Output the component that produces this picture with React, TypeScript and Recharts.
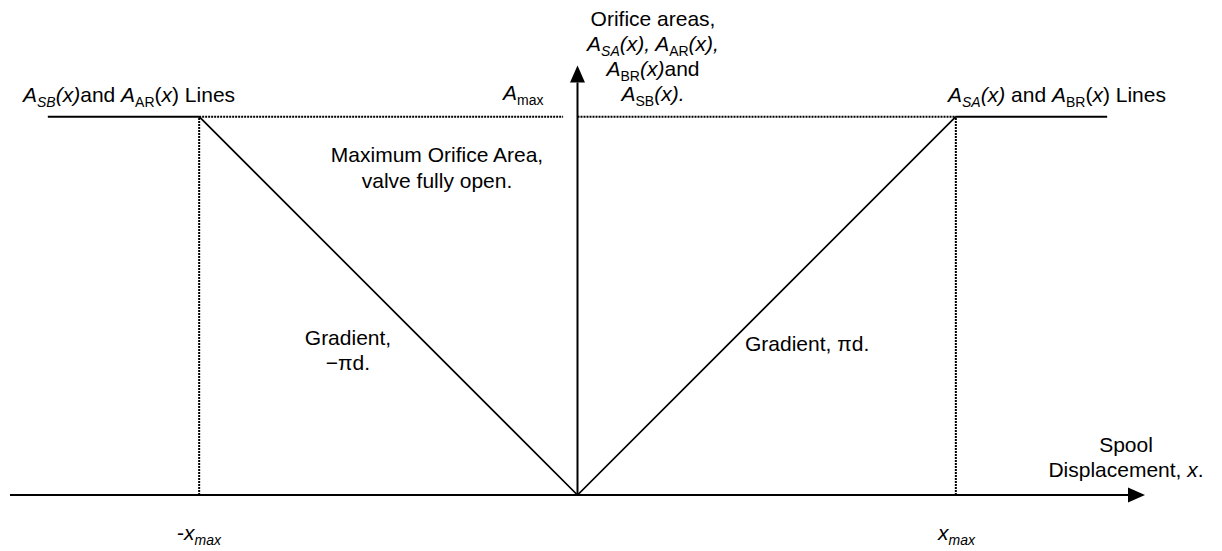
import { Line, LineChart, ReferenceLine, XAxis, YAxis } from 'recharts';

// displacement in units of x_max, area in units of A_max
const gradientLine = [
  { x: -1, y: 1 },
  { x: 0, y: 0 },
  { x: 1, y: 1 },
];
const leftPlateau = [
  { x: -1.4, y: 1 },
  { x: -1, y: 1 },
];
const rightPlateau = [
  { x: 1, y: 1 },
  { x: 1.4, y: 1 },
];
const amaxDottedLeft = [
  { x: -1, y: 1 },
  { x: -0.038, y: 1 },
];
const amaxDottedRight = [
  { x: 0, y: 1 },
  { x: 1, y: 1 },
];
const xMaxLeftDrop = [
  { x: -1, y: 0 },
  { x: -1, y: 1 },
];
const xMaxRightDrop = [
  { x: 1, y: 0 },
  { x: 1, y: 1 },
];

const xDomain = [-1.5, 1.5];
const yDomain = [0, 1.2];
const yAxisTop = 1.135;

type Seg = { t: string; it?: boolean; sub?: boolean };

const leftLinesLabel: Seg[] = [
  { t: 'A', it: true },
  { t: 'SB', it: true, sub: true },
  { t: '(x)', it: true },
  { t: 'and ' },
  { t: 'A', it: true },
  { t: 'AR', sub: true },
  { t: '(' },
  { t: 'x', it: true },
  { t: ') Lines' },
];
const rightLinesLabel: Seg[] = [
  { t: 'A', it: true },
  { t: 'SA', it: true, sub: true },
  { t: '(x)', it: true },
  { t: ' and ' },
  { t: 'A', it: true },
  { t: 'BR', sub: true },
  { t: '(' },
  { t: 'x', it: true },
  { t: ') Lines' },
];
const yAxisTitle: Seg[][] = [
  [{ t: 'Orifice areas,' }],
  [
    { t: 'A', it: true },
    { t: 'SA', it: true, sub: true },
    { t: '(x), A', it: true },
    { t: 'AR', sub: true },
    { t: '(x),', it: true },
  ],
  [
    { t: 'A', it: true },
    { t: 'BR', sub: true },
    { t: '(x)', it: true },
    { t: 'and' },
  ],
  [
    { t: 'A', it: true },
    { t: 'SB', sub: true },
    { t: '(x).', it: true },
  ],
];
const amaxLabel: Seg[] = [{ t: 'A', it: true }, { t: 'max', sub: true }];
const maxAreaNote: Seg[][] = [[{ t: 'Maximum Orifice Area,' }], [{ t: 'valve fully open.' }]];
const negGradientNote: Seg[][] = [[{ t: 'Gradient,' }], [{ t: '\u2212\u03c0d.' }]];
const posGradientNote: Seg[] = [{ t: 'Gradient, \u03c0d.' }];
const xAxisTitle: Seg[][] = [
  [{ t: 'Spool' }],
  [{ t: 'Displacement,  ' }, { t: 'x', it: true }, { t: '.' }],
];
const xMaxPos: Seg[] = [{ t: 'x', it: true }, { t: 'max', it: true, sub: true }];
const xMaxNeg: Seg[] = [{ t: '-' }, { t: 'x', it: true }, { t: 'max', it: true, sub: true }];

const FONT = '"Liberation Sans", Arial, sans-serif';
const SUB_SHIFT = 5;

function RichLine({ x, y, segs, anchor = 'start' }: { x: number; y: number; segs: Seg[]; anchor?: string }) {
  let shift = 0;
  return (
    <text x={x} y={y} textAnchor={anchor} fontFamily={FONT} fontSize={21} fill="#000">
      {segs.map((s, i) => {
        const target = s.sub ? SUB_SHIFT : 0;
        const dy = target - shift;
        shift = target;
        return (
          <tspan key={i} dy={dy || undefined} fontStyle={s.it ? 'italic' : 'normal'} fontSize={s.sub ? 14 : 21}>
            {s.t}
          </tspan>
        );
      })}
    </text>
  );
}

function RichBlock({ x, y, lines, gap, anchor = 'middle' }: { x: number; y: number; lines: Seg[][]; gap: number; anchor?: string }) {
  return (
    <g>
      {lines.map((segs, i) => (
        <RichLine key={i} x={x} y={y + i * gap} segs={segs} anchor={anchor} />
      ))}
    </g>
  );
}

function ArrowLine(props: any) {
  const { x1, y1, x2, y2 } = props;
  const dx = x2 - x1;
  const dy = y2 - y1;
  const len = Math.hypot(dx, dy) || 1;
  const ux = dx / len;
  const uy = dy / len;
  const head = 17;
  const half = 7.5;
  const bx = x2 - ux * head;
  const by = y2 - uy * head;
  const pts = `${x2},${y2} ${bx - uy * half},${by + ux * half} ${bx + uy * half},${by - ux * half}`;
  return (
    <g>
      <line x1={x1} y1={y1} x2={bx} y2={by} stroke="#000" strokeWidth={2} />
      <polygon points={pts} fill="#000" />
    </g>
  );
}

export default function App() {
  return (
    <LineChart
      width={1206}
      height={543}
      margin={{ top: 33, right: 69, bottom: 56, left: 2 }}
      style={{ fontFamily: FONT }}
    >
      <XAxis type="number" dataKey="x" domain={xDomain} hide allowDataOverflow />
      <YAxis type="number" dataKey="y" domain={yDomain} hide allowDataOverflow />

      <Line data={amaxDottedLeft} dataKey="y" stroke="#000" strokeWidth={2} strokeDasharray="2 1" dot={false} isAnimationActive={false} />
      <Line data={amaxDottedRight} dataKey="y" stroke="#000" strokeWidth={2} strokeDasharray="2 1" dot={false} isAnimationActive={false} />
      <Line data={xMaxLeftDrop} dataKey="y" stroke="#000" strokeWidth={2} strokeDasharray="2 1" dot={false} isAnimationActive={false} />
      <Line data={xMaxRightDrop} dataKey="y" stroke="#000" strokeWidth={2} strokeDasharray="2 1" dot={false} isAnimationActive={false} />

      <Line data={leftPlateau} dataKey="y" stroke="#000" strokeWidth={2} dot={false} isAnimationActive={false} />
      <Line data={rightPlateau} dataKey="y" stroke="#000" strokeWidth={2} dot={false} isAnimationActive={false} />
      <Line data={gradientLine} dataKey="y" stroke="#000" strokeWidth={1.7} dot={false} isAnimationActive={false} />

      <ReferenceLine
        segment={[
          { x: xDomain[0], y: 0 },
          { x: xDomain[1], y: 0 },
        ]}
        ifOverflow="visible"
        shape={ArrowLine}
      />
      <ReferenceLine
        segment={[
          { x: 0, y: 0 },
          { x: 0, y: yAxisTop },
        ]}
        ifOverflow="visible"
        shape={ArrowLine}
      />

      <RichLine x={15} y={94} segs={leftLinesLabel} />
      <RichLine x={940} y={94} segs={rightLinesLabel} />
      <RichBlock x={645} y={18} lines={yAxisTitle} gap={25} />
      <RichLine x={495} y={92} segs={amaxLabel} />
      <RichBlock x={429} y={154} lines={maxAreaNote} gap={26} />
      <RichBlock x={340} y={337} lines={negGradientNote} gap={25} />
      <RichLine x={737} y={343} segs={posGradientNote} />
      <RichBlock x={1118} y={444} lines={xAxisTitle} gap={25} />
      <RichLine x={930} y={532} segs={xMaxPos} />
      <RichLine x={169} y={532} segs={xMaxNeg} />
    </LineChart>
  );
}
